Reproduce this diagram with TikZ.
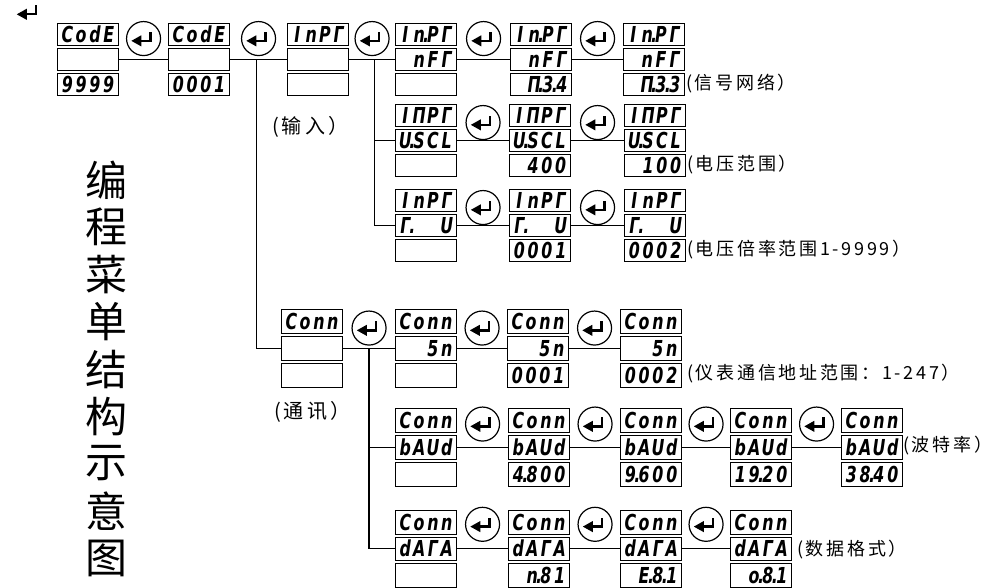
\documentclass[tikz,border=0pt]{standalone}
\usepackage{fontspec}
\usetikzlibrary{calc}
\newfontfamily\cjk[LetterSpace=15]{Noto Sans CJK SC}
\newfontfamily\cjkt{Noto Sans CJK SC}
\newfontfamily\segfont[FakeStretch=0.72]{DejaVu Sans}
\newlength\slotw \setlength\slotw{13.8pt}
\makeatletter
\def\segdot{.}
\def\segblank{*}
\newcommand\segone{\ifx\sg@c\segdot\makebox[0pt]{.}\else\ifx\sg@c\segblank\kern\slotw\else\makebox[\slotw]{\sg@c}\fi\fi}
\newcommand\segs[1]{\mbox{\@tfor\sg@c:=#1\do{\segone}}}
\makeatother
\tikzset{
  disp/.style={draw=black, line width=1.1pt, minimum width=61pt, inner xsep=2.9pt, inner ysep=0pt,
    text width=55.2pt, align=right, text height=16pt, text depth=0pt, anchor=north west,
    font=\segfont\bfseries\itshape\fontsize{22}{22}\selectfont},
  rcirc/.style={draw, circle, line width=1.2pt, minimum size=34pt, inner sep=0pt},
  conn/.style={line width=1.2pt},
  lbl/.style={anchor=west, inner sep=0pt, font=\cjk\fontsize{18}{18}\selectfont},
  bigt/.style={font=\cjkt\fontsize{42}{42}\selectfont, inner sep=0pt},
  retkey/.pic={
    \fill (-12.2,2.3) -- (-2.2,-3.3) -- (-2.2,7.9) -- cycle;
    \draw[line width=2.3pt, line join=miter] (-3,2.3) -- (7,2.3) -- (7,-6.7);
  }
}
% name, x, y, pitch, top, mid, bottom
\newcommand\disp[7]{%
  \node[disp, minimum height={#4-3}] (#1t) at (#2,#3) {\segs{#5}};
  \node[disp, minimum height={#4-3}] (#1m) at (#2,#3+#4) {\segs{#6}};
  \node[disp, minimum height={#4-3}] (#1b) at (#2,#3+2*#4) {\segs{#7}};
}
% name, left display, right display, dy
\newcommand\rk[4]{%
  \node[rcirc] (#1) at ($(#2t.east)!.5!(#3t.west)+(0,#4)$) {};
  \pic at (#1) {retkey};
}
\begin{document}
\begin{tikzpicture}[x=1pt,y=-1pt]
\useasboundingbox (0,0) rectangle (1004,587);
\pic at (29,12) {retkey};
% title
\foreach \c [count=\i from 0] in {编,程,菜,单,结,构,示,意,图}
  \node[bigt] (t\i) at (106,180+\i*47.25) {\c};
% row 1
\disp{a1}{57}{23}{25}{CodE}{}{9999}
\disp{a2}{168}{23}{25}{CodE}{}{0001}
\disp{a3}{287}{23}{25}{InPΓ}{}{}
\disp{a4}{395}{23}{25}{In.PΓ}{nFΓ}{}
\disp{a5}{510}{23}{25}{In.PΓ}{nFΓ}{Π.3.4}
\disp{a6}{623}{23}{25}{In.PΓ}{nFΓ}{Π.3.3}
\rk{k1}{a1}{a2}{4}
\rk{k2}{a2}{a3}{4}
\rk{k3}{a3}{a4}{4}
\rk{k4}{a4}{a5}{4}
\rk{k5}{a5}{a6}{4}
% row 2
\disp{b1}{395}{104}{25}{IΠPΓ}{U.SCL}{}
\disp{b2}{509}{104}{25}{IΠPΓ}{U.SCL}{400}
\disp{b3}{624}{104}{25}{IΠPΓ}{U.SCL}{100}
\rk{k6}{b1}{b2}{7}
\rk{k7}{b2}{b3}{7}
% row 3
\disp{c1}{395}{189}{25}{InPΓ}{Γ.**U}{}
\disp{c2}{509}{189}{25}{InPΓ}{Γ.**U}{0001}
\disp{c3}{624}{189}{25}{InPΓ}{Γ.**U}{0002}
\rk{k8}{c1}{c2}{7}
\rk{k9}{c2}{c3}{7}
% Conn rows
\disp{d0}{281}{309}{27}{Conn}{}{}
\disp{d1}{395}{309}{27}{Conn}{5n}{}
\disp{d2}{507}{309}{27}{Conn}{5n}{0001}
\disp{d3}{620}{309}{27}{Conn}{5n}{0002}
\rk{k10}{d0}{d1}{6.5}
\rk{k11}{d1}{d2}{6.5}
\rk{k12}{d2}{d3}{6.5}
\disp{e1}{395}{408}{27}{Conn}{bAUd}{}
\disp{e2}{508}{408}{27}{Conn}{bAUd}{4.800}
\disp{e3}{620}{408}{27}{Conn}{bAUd}{9.600}
\disp{e4}{730}{408}{27}{Conn}{bAUd}{19.20}
\disp{e5}{841}{408}{27}{Conn}{bAUd}{38.40}
\rk{k13}{e1}{e2}{3.5}
\rk{k14}{e2}{e3}{3.5}
\rk{k15}{e3}{e4}{3.5}
\rk{k16}{e4}{e5}{3.5}
\disp{f1}{395}{510}{26.5}{Conn}{dAΓA}{}
\disp{f2}{508}{510}{26.5}{Conn}{dAΓA}{n.81}
\disp{f3}{620}{510}{26.5}{Conn}{dAΓA}{E.8.1}
\disp{f4}{730}{510}{26.5}{Conn}{dAΓA}{o.8.1}
\rk{k17}{f1}{f2}{2}
\rk{k18}{f2}{f3}{2}
\rk{k19}{f3}{f4}{2}
% connectors
\draw[conn] (a1m.east) -- (a2m.west);
\draw[conn] (a2m.east) -- (a3m.west);
\draw[conn] (a3m.east) -- (a4m.west);
\draw[conn] (a4m.east) -- (a5m.west);
\draw[conn] (a5m.east) -- (a6m.west);
\coordinate (j1) at ($(a2m.east)!.47!(a3m.west)$);
\coordinate (j2) at ($(a3m.east)!.55!(a4m.west)$);
\draw[conn] (j1) |- (d0m.west);
\draw[conn] (j2) |- (c1m.west);
\draw[conn] (j2) |- (b1m.west);
\draw[conn] (b1m.east) -- (b2m.west);
\draw[conn] (b2m.east) -- (b3m.west);
\draw[conn] (c1m.east) -- (c2m.west);
\draw[conn] (c2m.east) -- (c3m.west);
\draw[conn] (d0m.east) -- (d1m.west);
\draw[conn] (d1m.east) -- (d2m.west);
\draw[conn] (d2m.east) -- (d3m.west);
\coordinate (j3) at ($(d0m.east)!.5!(d1m.west)$);
\draw[conn] (j3) |- (e1m.west);
\draw[conn] (j3) |- (f1m.west);
\draw[conn] (e1m.east) -- (e2m.west);
\draw[conn] (e2m.east) -- (e3m.west);
\draw[conn] (e3m.east) -- (e4m.west);
\draw[conn] (e4m.east) -- (e5m.west);
\draw[conn] (f1m.east) -- (f2m.west);
\draw[conn] (f2m.east) -- (f3m.west);
\draw[conn] (f3m.east) -- (f4m.west);
% labels
\node[lbl, font=\cjk\fontsize{20}{20}\selectfont] (l1) at (272,127) {(输\hspace{4pt}入）};
\node[lbl, font=\cjk\fontsize{20}{20}\selectfont] (l2) at (274,412) {(通\hspace{4pt}讯）};
\node[lbl] (l3) at (686,84) {(信号网络）};
\node[lbl] (l4) at (687,165) {(电压范围）};
\node[lbl] (l5) at (687,250) {(电压倍率范围1-9999）};
\node[lbl] (l6) at (687,374) {(仪表通信地址范围：1-247）};
\node[lbl] (l7) at (903,446) {(波特率）};
\node[lbl] (l8) at (797,550) {(数据格式）};
\end{tikzpicture}
\end{document}
